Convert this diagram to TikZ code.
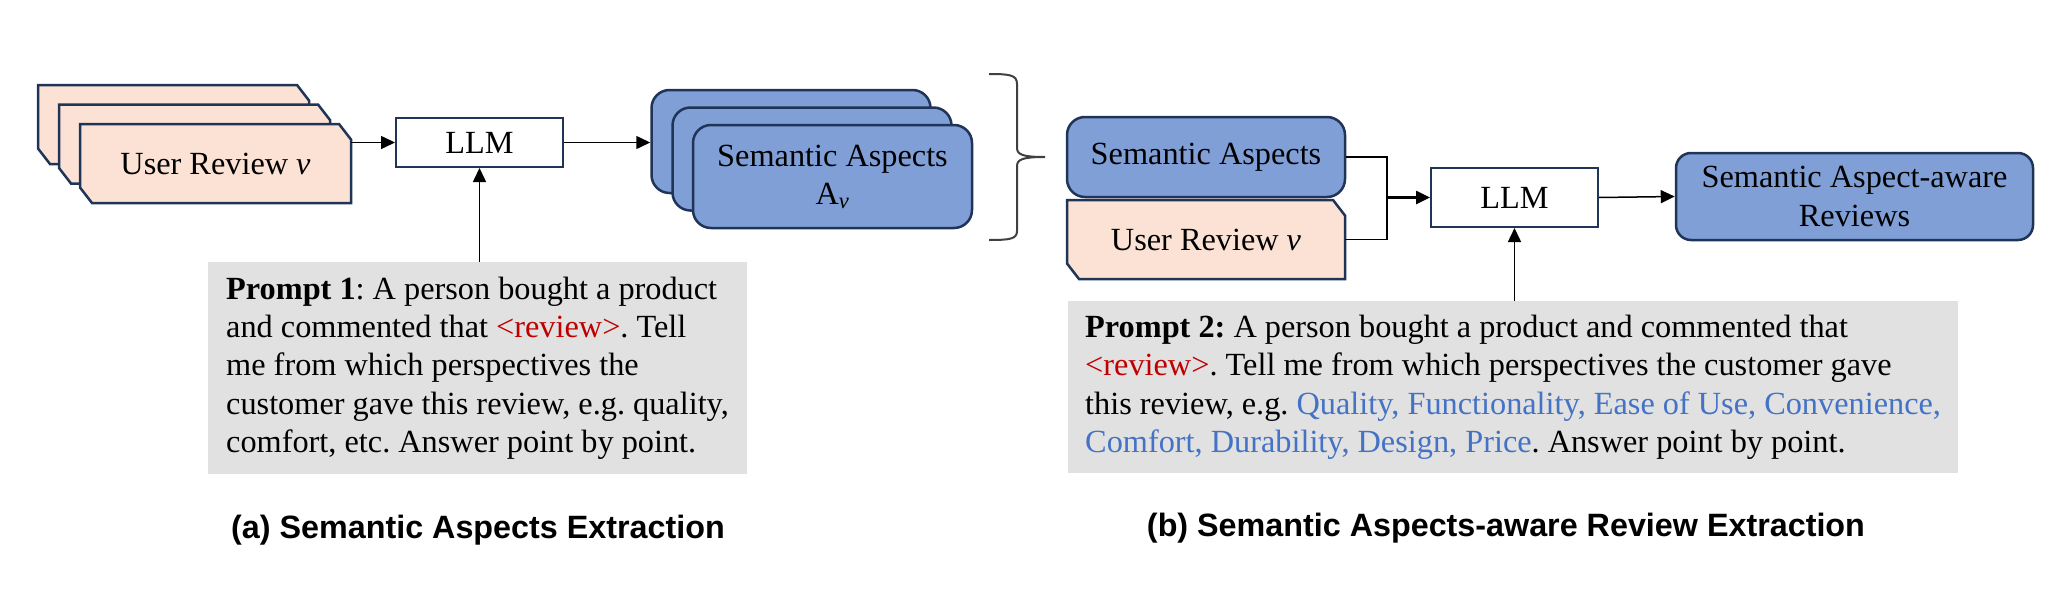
\documentclass[tikz,border=0pt]{standalone}
\usepackage{fontspec}
\setmainfont{Liberation Serif}
\newfontfamily\captionsans{Liberation Sans}
\usetikzlibrary{arrows.meta}
\frenchspacing

\definecolor{peach}{HTML}{FBE2D5}
\definecolor{aspectblue}{HTML}{7F9FD6}
\definecolor{navy}{HTML}{1F3457}
\definecolor{promptgray}{HTML}{E1E1E1}
\definecolor{reviewred}{HTML}{C00000}
\definecolor{listblue}{HTML}{4472C4}

% chamfered review card: centre (#1,#2), width #3
\newcommand{\reviewcard}[3]{%
  \draw[navy, line width=2.5pt, fill=peach]
    (#1-#3/2,#2-39.5) -- (#1+#3/2-12,#2-39.5) -- (#1+#3/2,#2-24)
    -- (#1+#3/2,#2+39.5) -- (#1-#3/2+12,#2+39.5) -- (#1-#3/2,#2+24) -- cycle;}

\begin{document}
\begin{tikzpicture}[x=1pt, y=-1pt,
    txt/.style={font=\fontsize{32.3}{38.3}\selectfont},
    card/.style={txt, minimum width=271pt, minimum height=79pt, inner sep=0pt},
    aspect/.style={txt, draw=navy, line width=2.5pt, fill=aspectblue, rounded corners=18pt,
        minimum width=279pt, minimum height=103pt, align=center, inner sep=0pt},
    llm/.style={txt, draw=navy, line width=2pt, fill=white, minimum width=167pt,
        minimum height=49pt, inner sep=0pt},
    prompt/.style={txt, fill=promptgray, align=left, anchor=north west, inner ysep=0pt},
    caption/.style={font=\captionsans\bfseries\fontsize{32.3}{38}\selectfont},
    link/.style={line width=1.5pt},
    arrow/.style={link, -{Triangle[length=14pt,width=13pt]}}]
    \useasboundingbox (0,0) rectangle (2064,602);

    % (a) stack of user reviews
    \reviewcard{173.5}{124.5}{271}
    \reviewcard{194.5}{144}{271}
    \reviewcard{215.5}{163.5}{271}
    \node[card] (reva) at (215.5,163.5) {\raisebox{-3pt}{User Review \textit{v}}};

    % first LLM
    \node[llm] (llma) at (479.5,142.5) {LLM};

    % stack of semantic aspects
    \node[aspect] (aspa3) at (791,141.5) {};
    \node[aspect] (aspa2) at (812,159) {};
    \node[aspect] (aspa1) at (832.5,176.5) {Semantic Aspects\\A\textsubscript{\textit{v}}};

    \draw[arrow] (reva.east |- llma) -- (llma.west);
    \draw[arrow] (llma.east) -- (llma.east -| aspa3.west);

    % prompt 1
    \node[prompt, minimum height=212pt, inner xsep=18pt] (prompta) at (208,262) {%
        \textbf{Prompt 1}: A person bought a product\\
        and commented that \textcolor{reviewred}{<review>}. Tell\\
        me from which perspectives the\\
        customer gave this review, e.g. quality,\\
        comfort, etc. Answer point by point.};
    \draw[arrow] (prompta.north -| llma.south) -- (llma.south);

    % brace between (a) and (b)
    \draw[line width=2pt, black!75] (989,74) .. controls (1010,74) and (1017,75) .. (1017,84)
        -- (1017,148) .. controls (1017,155) and (1024,157) .. (1045,157)
        .. controls (1024,157) and (1017,159) .. (1017,166)
        -- (1017,231) .. controls (1017,239) and (1010,240) .. (989,240);

    % (b) inputs
    \node[aspect, minimum width=278pt, minimum height=80pt] (aspb) at (1206,157) {Semantic Aspects};
    \reviewcard{1206}{239.5}{278}
    \node[card, minimum width=278pt] (revb) at (1206,239.5) {\raisebox{-3pt}{User Review \textit{v}}};

    % second LLM and output
    \node[llm, minimum height=59pt] (llmb) at (1514.5,197.5) {LLM};
    \node[aspect, minimum width=357pt, minimum height=87pt, rounded corners=15pt] (sar)
        at (1854.5,196.5) {Semantic Aspect-aware\\Reviews};

    \coordinate (join) at (1387,197.5);
    \draw[link] (aspb.east) -| (join) |- (revb.east);
    \draw[arrow, line width=2.5pt] (join) -- (llmb.west);
    \draw[arrow] (llmb.east) -- (sar.west);

    % prompt 2
    \node[prompt, minimum height=172pt, inner xsep=17pt] (promptb) at (1068,301) {%
        \textbf{Prompt 2:} A person bought a product and commented that\\
        \textcolor{reviewred}{<review>}. Tell me from which perspectives the customer gave\\
        this review, e.g. \textcolor{listblue}{Quality, Functionality, Ease of Use, Convenience,}\\
        \textcolor{listblue}{Comfort, Durability, Design, Price}. Answer point by point.};
    \draw[arrow] (promptb.north -| llmb.south) -- (llmb.south);

    % captions
    \node[caption] (capa) at (478,530) {(a) Semantic Aspects Extraction};
    \node[caption] (capb) at (1506,528) {(b) Semantic Aspects-aware Review Extraction};
\end{tikzpicture}
\end{document}
